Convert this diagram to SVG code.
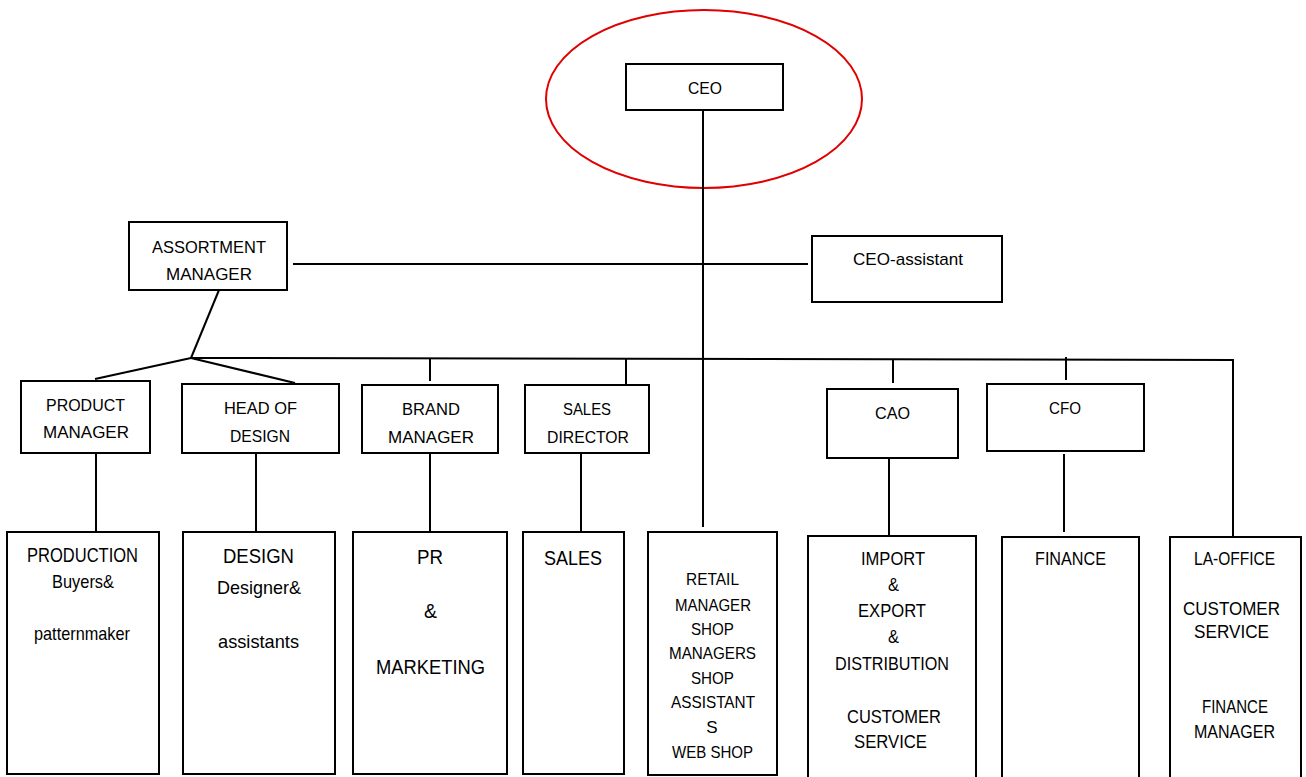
<svg xmlns="http://www.w3.org/2000/svg" width="1306" height="777" viewBox="0 0 1306 777">
<style>
.box{fill:#fff;stroke:#000;stroke-width:2}
.ln{stroke:#000;stroke-width:2;fill:none}
text{font-family:"Liberation Sans",Arial,sans-serif;fill:#000}
.t{font-size:17px}
.b{font-size:19px}
.s{font-size:17px}
</style>
<rect width="1306" height="777" fill="#fff"/>
<ellipse cx="704" cy="99" rx="158" ry="89" fill="none" stroke="#e00000" stroke-width="2"/>
<g id="connectors" class="ln">
<line x1="703" y1="110" x2="703" y2="527"/>
<line x1="293" y1="264" x2="808" y2="264"/>
<line x1="219" y1="290" x2="191" y2="358"/>
<line x1="191" y1="358" x2="95" y2="379"/>
<line x1="191" y1="358" x2="295" y2="383"/>
<polyline points="191,358 1233,360 1233,537"/>
<line x1="430" y1="358" x2="430" y2="381"/>
<line x1="626" y1="359" x2="626" y2="385"/>
<line x1="893" y1="360" x2="893" y2="383"/>
<line x1="1066" y1="357" x2="1066" y2="380"/>
<line x1="96" y1="453" x2="96" y2="532"/>
<line x1="256" y1="453" x2="256" y2="532"/>
<line x1="430" y1="453" x2="430" y2="532"/>
<line x1="581" y1="453" x2="581" y2="532"/>
<line x1="889" y1="458" x2="889" y2="536"/>
<line x1="1064" y1="454" x2="1064" y2="532"/>
</g>
<g id="ceo"><rect class="box" x="626" y="64" width="157" height="46"/><text class="t" x="688" y="94" textLength="34" lengthAdjust="spacingAndGlyphs">CEO</text></g>
<g id="assortment"><rect class="box" x="129" y="222" width="158" height="68"/><text class="t" x="152" y="253" textLength="114" lengthAdjust="spacingAndGlyphs">ASSORTMENT</text><text class="t" x="166" y="280" textLength="86" lengthAdjust="spacingAndGlyphs">MANAGER</text></g>
<g id="ceo-assistant"><rect class="box" x="812" y="236" width="190" height="66"/><text class="t" x="853" y="265" textLength="110" lengthAdjust="spacingAndGlyphs">CEO-assistant</text></g>
<g id="product-manager"><rect class="box" x="21" y="381" width="129" height="72"/><text class="t" x="46" y="411" textLength="79" lengthAdjust="spacingAndGlyphs">PRODUCT</text><text class="t" x="43" y="438" textLength="86" lengthAdjust="spacingAndGlyphs">MANAGER</text></g>
<g id="head-of-design"><rect class="box" x="182" y="384" width="157" height="69"/><text class="t" x="224" y="414" textLength="73" lengthAdjust="spacingAndGlyphs">HEAD OF</text><text class="t" x="230" y="442" textLength="60" lengthAdjust="spacingAndGlyphs">DESIGN</text></g>
<g id="brand-manager"><rect class="box" x="362" y="385" width="136" height="68"/><text class="t" x="402" y="415" textLength="58" lengthAdjust="spacingAndGlyphs">BRAND</text><text class="t" x="388" y="443" textLength="86" lengthAdjust="spacingAndGlyphs">MANAGER</text></g>
<g id="sales-director"><rect class="box" x="525" y="385" width="124" height="68"/><text class="t" x="563" y="415" textLength="48" lengthAdjust="spacingAndGlyphs">SALES</text><text class="t" x="547" y="443" textLength="82" lengthAdjust="spacingAndGlyphs">DIRECTOR</text></g>
<g id="cao"><rect class="box" x="827" y="389" width="131" height="69"/><text class="t" x="875" y="419" textLength="35" lengthAdjust="spacingAndGlyphs">CAO</text></g>
<g id="cfo"><rect class="box" x="987" y="384" width="157" height="67"/><text class="t" x="1049" y="414" textLength="32" lengthAdjust="spacingAndGlyphs">CFO</text></g>
<g id="production"><rect class="box" x="7" y="532" width="152" height="242"/>
<text style="font-size:20px" x="27" y="562" textLength="111" lengthAdjust="spacingAndGlyphs">PRODUCTION</text>
<text class="b" x="52" y="588" textLength="62" lengthAdjust="spacingAndGlyphs">Buyers&amp;</text>
<text class="b" x="34" y="640" textLength="96" lengthAdjust="spacingAndGlyphs">patternmaker</text></g>
<g id="design"><rect class="box" x="183" y="532" width="152" height="242"/>
<text style="font-size:20px" x="223" y="563" textLength="71" lengthAdjust="spacingAndGlyphs">DESIGN</text>
<text class="b" x="217" y="594" textLength="84" lengthAdjust="spacingAndGlyphs">Designer&amp;</text>
<text class="b" x="218" y="648" textLength="81" lengthAdjust="spacingAndGlyphs">assistants</text></g>
<g id="pr-marketing"><rect class="box" x="353" y="532" width="154" height="242"/>
<text style="font-size:20px" x="417" y="564" textLength="26" lengthAdjust="spacingAndGlyphs">PR</text>
<text style="font-size:20px" x="424" y="618" textLength="13" lengthAdjust="spacingAndGlyphs">&amp;</text>
<text style="font-size:20px" x="376" y="674" textLength="109" lengthAdjust="spacingAndGlyphs">MARKETING</text></g>
<g id="sales"><rect class="box" x="523" y="532" width="101" height="242"/>
<text style="font-size:20px" x="544" y="565" textLength="58" lengthAdjust="spacingAndGlyphs">SALES</text></g>
<g id="retail"><rect class="box" x="648" y="532" width="129" height="243"/>
<text class="s" x="686" y="585" textLength="53" lengthAdjust="spacingAndGlyphs">RETAIL</text>
<text class="s" x="675" y="611" textLength="76" lengthAdjust="spacingAndGlyphs">MANAGER</text>
<text class="s" x="691" y="635" textLength="43" lengthAdjust="spacingAndGlyphs">SHOP</text>
<text class="s" x="669" y="659" textLength="87" lengthAdjust="spacingAndGlyphs">MANAGERS</text>
<text class="s" x="691" y="684" textLength="43" lengthAdjust="spacingAndGlyphs">SHOP</text>
<text class="s" x="671" y="708" textLength="84" lengthAdjust="spacingAndGlyphs">ASSISTANT</text>
<text class="s" x="712" y="733" text-anchor="middle">S</text>
<text class="s" x="672" y="758" textLength="81" lengthAdjust="spacingAndGlyphs">WEB SHOP</text></g>
<g id="import-export"><rect class="box" x="808" y="536" width="168" height="244"/>
<text style="font-size:18px" x="861" y="565" textLength="64" lengthAdjust="spacingAndGlyphs">IMPORT</text>
<text style="font-size:18px" x="888" y="591" textLength="11" lengthAdjust="spacingAndGlyphs">&amp;</text>
<text style="font-size:18px" x="858" y="617" textLength="68" lengthAdjust="spacingAndGlyphs">EXPORT</text>
<text style="font-size:18px" x="888" y="643" textLength="11" lengthAdjust="spacingAndGlyphs">&amp;</text>
<text style="font-size:18px" x="835" y="670" textLength="114" lengthAdjust="spacingAndGlyphs">DISTRIBUTION</text>
<text style="font-size:18px" x="847" y="723" textLength="94" lengthAdjust="spacingAndGlyphs">CUSTOMER</text>
<text style="font-size:18px" x="854" y="748" textLength="73" lengthAdjust="spacingAndGlyphs">SERVICE</text></g>
<g id="finance"><rect class="box" x="1002" y="537" width="137" height="243"/>
<text class="b" x="1035" y="565" textLength="71" lengthAdjust="spacingAndGlyphs">FINANCE</text></g>
<g id="la-office"><rect class="box" x="1170" y="537" width="131" height="243"/>
<text class="b" x="1194" y="565" textLength="81" lengthAdjust="spacingAndGlyphs">LA-OFFICE</text>
<text class="b" x="1183" y="615" textLength="97" lengthAdjust="spacingAndGlyphs">CUSTOMER</text>
<text class="b" x="1194" y="638" textLength="75" lengthAdjust="spacingAndGlyphs">SERVICE</text>
<text class="b" x="1202" y="713" textLength="66" lengthAdjust="spacingAndGlyphs">FINANCE</text>
<text class="b" x="1194" y="738" textLength="81" lengthAdjust="spacingAndGlyphs">MANAGER</text></g>
</svg>
